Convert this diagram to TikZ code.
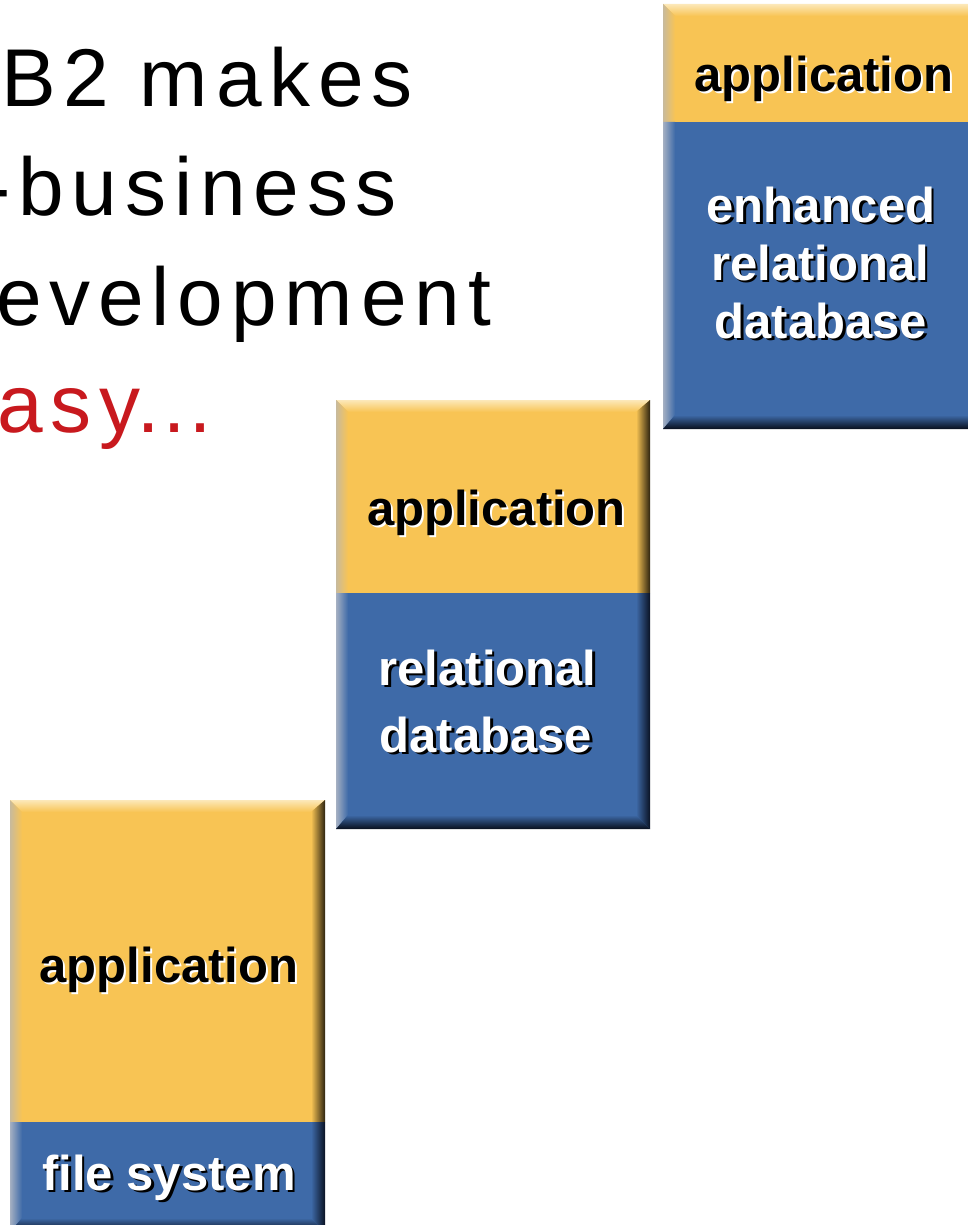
\documentclass[tikz,border=0pt]{standalone}
\usepackage{fontspec}
\setmainfont{Liberation Sans}
\newfontfamily\headfont[LetterSpace=9.6]{Liberation Sans}
\definecolor{appyellow}{RGB}{248,196,84}
\definecolor{dbblue}{RGB}{62,106,168}
\definecolor{easyred}{RGB}{200,25,30}
\definecolor{toplight}{RGB}{252,232,185}
\definecolor{lefttan}{RGB}{200,186,156}
\definecolor{leftgray}{RGB}{165,176,194}
\definecolor{rightdarky}{RGB}{45,35,15}
\definecolor{rightdarkb}{RGB}{10,18,35}
\definecolor{botdark}{RGB}{8,14,28}
% #1=x1 #2=y1 #3=x2 #4=y of yellow/blue boundary #5=y2
\newcommand\bevelblock[5]{%
  \fill[appyellow] (#1,#2) rectangle (#3,#4);
  \fill[dbblue] (#1,#4) rectangle (#3,#5);
  \shade[top color=toplight,bottom color=appyellow]
    (#1,#2) -- (#3,#2) -- ({#3-14},{#2+12}) -- ({#1+12},{#2+12}) -- cycle;
  \shade[left color=lefttan,right color=appyellow]
    (#1,#2) -- ({#1+12},{#2+12}) -- ({#1+12},#4) -- (#1,#4) -- cycle;
  \shade[left color=leftgray,right color=dbblue]
    (#1,#4) -- ({#1+12},#4) -- ({#1+12},{#5-14}) -- (#1,#5) -- cycle;
  \shade[left color=appyellow,right color=rightdarky]
    (#3,#2) -- (#3,#4) -- ({#3-14},#4) -- ({#3-14},{#2+12}) -- cycle;
  \shade[left color=dbblue,right color=rightdarkb]
    (#3,#4) -- (#3,#5) -- ({#3-14},{#5-14}) -- ({#3-14},#4) -- cycle;
  \shade[top color=dbblue,bottom color=botdark]
    (#1,#5) -- (#3,#5) -- ({#3-14},{#5-14}) -- ({#1+12},{#5-14}) -- cycle;
}
\tikzset{
  head/.style={font=\headfont\fontsize{82}{98}\selectfont, anchor=base west, inner sep=0pt, text=black},
  lbl/.style={font=\fontsize{49}{58}\selectfont\bfseries, anchor=base, inner sep=0pt},
  darklbl/.style={lbl, text=black},
  darkshadow/.style={lbl, text=white},
  lightlbl/.style={lbl, text=white},
  lightshadow/.style={lbl, text=black},
}
\begin{document}
\begin{tikzpicture}[x=1pt,y=-1pt]
\useasboundingbox (0,0) rectangle (967,1225);
\fill[white] (0,0) rectangle (967,1225);

% heading
\node[head] (h1) at (1,107) {B2 makes};
\node[head] (h2) at (-17,215) {-business};
\node[head] (h3) at (-4,325) {evelopment};
\node[head, text=easyred] (h4) at (-3,432) {asy\kern-7pt…};

% blocks
\bevelblock{663}{4}{985}{122}{429}
\bevelblock{336}{400}{650}{593}{829}
\bevelblock{10}{800}{325}{1122}{1232}

% block 3 labels
\node[darkshadow] (a3s) at (826,94) {application};
\node[darklbl] (a3) at (824,92) {application};
\node[lightshadow] (e3s) at (823.5,224.5) {enhanced};
\node[lightlbl] (e3) at (821,222) {enhanced};
\node[lightshadow] (r3s) at (822.5,282.5) {relational};
\node[lightlbl] (r3) at (820,280) {relational};
\node[lightshadow] (d3s) at (823.5,340.5) {database};
\node[lightlbl] (d3) at (821,338) {database};

% block 2 labels
\node[darkshadow] (a2s) at (498.5,527) {application};
\node[darklbl] (a2) at (496.5,525) {application};
\node[lightshadow] (r2s) at (490,687.5) {relational};
\node[lightlbl] (r2) at (487.5,685) {relational};
\node[lightshadow] (d2s) at (488.5,754.5) {database};
\node[lightlbl] (d2) at (486,752) {database};

% block 1 labels
\node[darkshadow] (a1s) at (171,984) {application};
\node[darklbl] (a1) at (169,982) {application};
\node[lightshadow] (f1s) at (171.5,1192.5) {file system};
\node[lightlbl] (f1) at (169,1190) {file system};
\end{tikzpicture}
\end{document}
